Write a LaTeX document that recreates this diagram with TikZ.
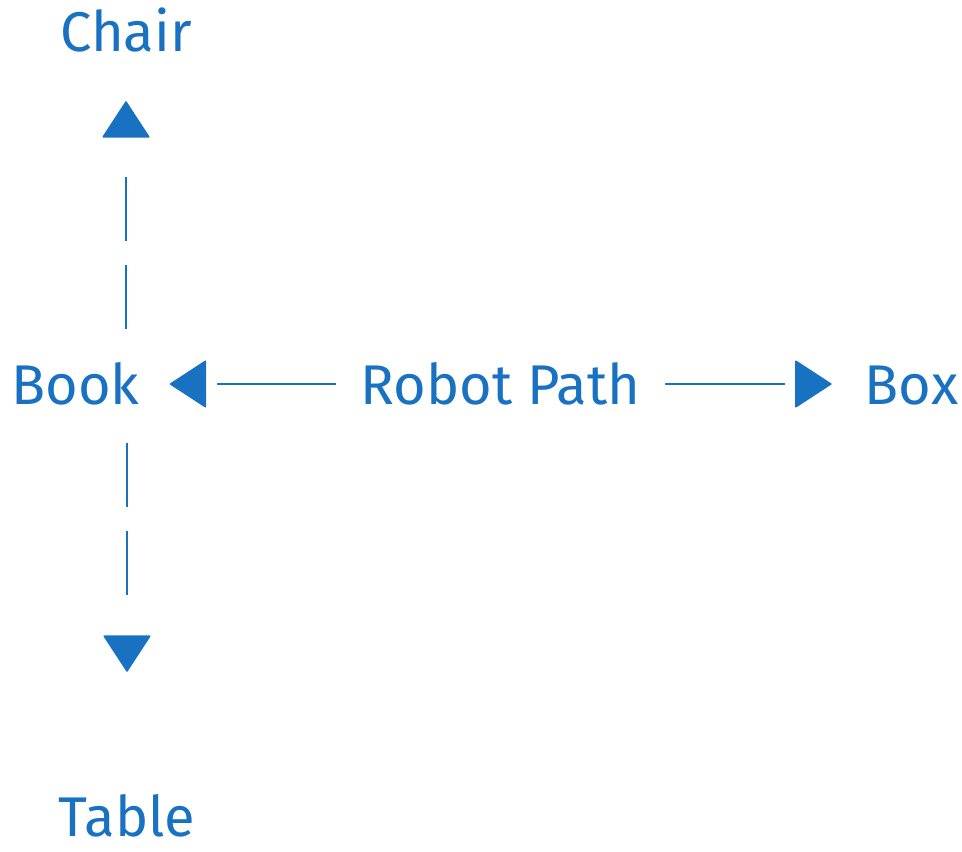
\documentclass[tikz,border=0pt]{standalone}
\usepackage{fontspec}
\setmainfont{Fira Sans}
\usepackage{tikz}
\usetikzlibrary{arrows.meta}
\definecolor{pathblue}{HTML}{1971C2}

\begin{document}
\begin{tikzpicture}[x=1pt, y=-1pt,
    thing/.style={text=pathblue, inner sep=0pt, anchor=base,
      minimum width=#1, text height=40pt, text depth=0pt,
      font=\fontsize{56}{60}\selectfont},
    link/.style={draw=pathblue, line width=1.4pt,
      -{Triangle[width=48pt, length=37pt, round]}},
    gapline/.style={dash pattern=on #1 off 60pt},
    dashline/.style={dash pattern=on 64pt off 24pt on 64pt off 60pt}]
      \useasboundingbox (0, 0) rectangle (962, 852);
      \node[thing=122pt] (chair) at (126, 51) {Chair};
      \node[thing=125pt] (book)  at (75.5, 404) {Book};
      \node[thing=283pt] (path)  at (500.5, 404) {Robot Path};
      \node[thing=91pt]  (box)   at (911.5, 404) {Box};
      \node[thing=128pt] (table) at (127, 836) {Table};
      \draw[link, gapline=119pt, shorten <=23pt, shorten >=30pt]
            (path.west) -- (book.east);
      \draw[link, gapline=120pt, shorten <=23pt, shorten >=33pt]
            (path.east) -- (box.west);
      \draw[link, dashline, shorten <=35pt, shorten >=50pt]
            (book.north -| chair) -- (chair);
      \draw[link, dashline, shorten <=39pt, shorten >=124pt]
            (book.south -| table) -- (table);
\end{tikzpicture}
\end{document}
